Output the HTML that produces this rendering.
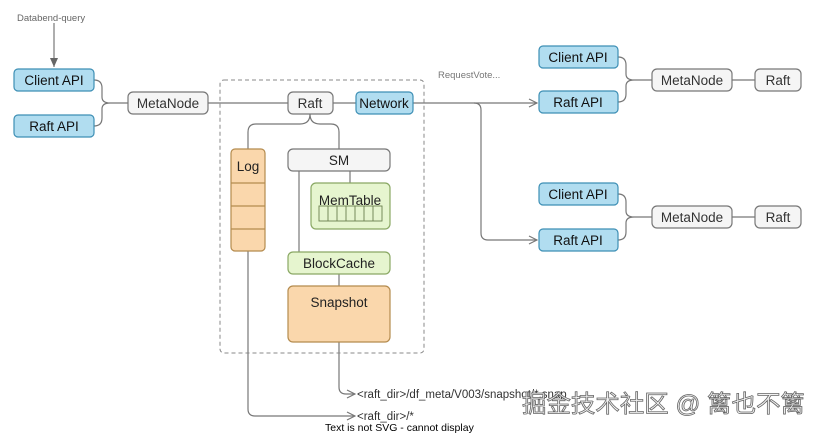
<!DOCTYPE html>
<html><head><meta charset="utf-8"><style>
html,body{margin:0;padding:0;background:#fff;width:822px;height:436px;overflow:hidden}
text{font-family:"Liberation Sans",sans-serif}
</style></head><body>
<svg width="822" height="436" viewBox="0 0 822 436" xmlns="http://www.w3.org/2000/svg">
<defs>
<marker id="a" markerWidth="10" markerHeight="10" refX="9" refY="5" orient="auto" markerUnits="userSpaceOnUse"><path d="M1,1 L9,5 L1,9" fill="none" stroke="#777" stroke-width="1.2"/></marker>
<marker id="b" markerWidth="10" markerHeight="10" refX="9" refY="5" orient="auto" markerUnits="userSpaceOnUse"><path d="M0,1 L9,5 L0,9 Z" fill="#666"/></marker>
</defs>
<g fill="none" stroke="#777" stroke-width="1.2">
<line x1="54" y1="23" x2="54" y2="67" marker-end="url(#b)"/>
<path d="M94,80 Q102,80 102,88 L102,97 Q102,103 110,103 Q102,103 102,109 L102,118 Q102,126 94,126"/>
<line x1="110" y1="103" x2="128" y2="103"/>
<line x1="208" y1="103" x2="288" y2="103"/>
<line x1="333" y1="103" x2="356" y2="103"/>
<line x1="413" y1="103" x2="537" y2="103" marker-end="url(#a)"/>
<path d="M474,103 Q481,103 481,110 L481,233 Q481,240 488,240 L537,240" marker-end="url(#a)"/>
<path d="M310,114 Q310,124 300,124 L256,124 Q248,124 248,132 L248,149"/>
<path d="M310,114 Q310,124 320,124 L331,124 Q339,124 339,132 L339,149"/>
<line x1="299" y1="171" x2="299" y2="252"/>
<line x1="350" y1="171" x2="350" y2="183"/>
<line x1="339" y1="274" x2="339" y2="286"/>
<path d="M339,342 L339,387 Q339,394 346,394 L355,394" marker-end="url(#a)"/>
<path d="M248,251 L248,409 Q248,416 255,416 L355,416" marker-end="url(#a)"/>
<path d="M618,57 Q626,57 626,65 L626,74 Q626,80 634,80 Q626,80 626,86 L626,94 Q626,102 618,102"/>
<line x1="634" y1="80" x2="652" y2="80"/>
<line x1="732" y1="80" x2="755" y2="80"/>
<path d="M618,194 Q626,194 626,202 L626,211 Q626,217 634,217 Q626,217 626,223 L626,232 Q626,240 618,240"/>
<line x1="634" y1="217" x2="652" y2="217"/>
<line x1="732" y1="217" x2="755" y2="217"/>
</g>
<rect x="220" y="80" width="204" height="273" rx="4" fill="none" stroke="#888" stroke-width="1" stroke-dasharray="4,3"/>
<g stroke-width="1.2">
<g fill="#b1ddf0" stroke="#3d8fb5">
<rect x="14" y="69" width="80" height="22" rx="4"/>
<rect x="14" y="115" width="80" height="22" rx="4"/>
<rect x="356" y="92" width="57" height="22" rx="4"/>
<rect x="539" y="46" width="79" height="22" rx="4"/>
<rect x="539" y="91" width="79" height="22" rx="4"/>
<rect x="539" y="183" width="79" height="22" rx="4"/>
<rect x="539" y="229" width="79" height="22" rx="4"/>
</g>
<g fill="#f5f5f5" stroke="#777">
<rect x="128" y="92" width="80" height="22" rx="5"/>
<rect x="288" y="92" width="45" height="22" rx="5"/>
<rect x="288" y="149" width="102" height="22" rx="5"/>
<rect x="652" y="69" width="80" height="22" rx="5"/>
<rect x="755" y="69" width="46" height="22" rx="5"/>
<rect x="652" y="206" width="80" height="22" rx="5"/>
<rect x="755" y="206" width="46" height="22" rx="5"/>
</g>
<g fill="#fad7ac" stroke="#b48b4e">
<rect x="231" y="149" width="34" height="102" rx="4"/>
<rect x="288" y="286" width="102" height="56" rx="5"/>
</g>
<g stroke="#b48b4e"><line x1="231" y1="183" x2="265" y2="183"/><line x1="231" y1="206" x2="265" y2="206"/><line x1="231" y1="229" x2="265" y2="229"/></g>
<g fill="#e6f5cf" stroke="#8aa864">
<rect x="311" y="183" width="79" height="46" rx="5"/>
<rect x="288" y="252" width="102" height="22" rx="5"/>
</g>
<g fill="none" stroke="#6a7f4e" stroke-width="0.9">
<rect x="319" y="206" width="63" height="15"/>
<line x1="328" y1="206" x2="328" y2="221"/><line x1="337" y1="206" x2="337" y2="221"/><line x1="346" y1="206" x2="346" y2="221"/><line x1="355" y1="206" x2="355" y2="221"/><line x1="364" y1="206" x2="364" y2="221"/><line x1="373" y1="206" x2="373" y2="221"/>
</g>
</g>
<g font-size="13.5" fill="#111" text-anchor="middle">
<text x="54" y="85">Client API</text>
<text x="54" y="131">Raft API</text>
<text x="168" y="108" fill="#333">MetaNode</text>
<text x="310" y="108" fill="#333">Raft</text>
<text x="384" y="108">Network</text>
<text x="248" y="171" fill="#222">Log</text>
<text x="339" y="165" fill="#222">SM</text>
<text x="350" y="205" fill="#222">MemTable</text>
<text x="339" y="268" fill="#222">BlockCache</text>
<text x="339" y="307" fill="#222">Snapshot</text>
<text x="578" y="62">Client API</text>
<text x="578" y="107">Raft API</text>
<text x="692" y="85" fill="#333">MetaNode</text>
<text x="778" y="85" fill="#333">Raft</text>
<text x="578" y="199">Client API</text>
<text x="578" y="245">Raft API</text>
<text x="692" y="222" fill="#333">MetaNode</text>
<text x="778" y="222" fill="#333">Raft</text>
</g>
<text x="17" y="21" font-size="9.5" fill="#666">Databend-query</text>
<text x="438" y="78" font-size="9.5" fill="#777">RequestVote...</text>
<text x="357" y="398" font-size="11.5" fill="#333">&lt;raft_dir&gt;/df_meta/V003/snapshot/*.snap</text>
<text x="357" y="420" font-size="11.5" fill="#333">&lt;raft_dir&gt;/*</text>
<text x="325" y="431" font-size="10.5" fill="#000">Text is not SVG - cannot display</text>
<text x="522" y="412" font-size="24" textLength="283" lengthAdjust="spacingAndGlyphs" fill="#f2f2f2" stroke="#666" stroke-width="0.8" font-family="'Liberation Sans','Noto Sans CJK SC',sans-serif">掘金技术社区 @ 篱也不篱</text>
</svg>
</body></html>
